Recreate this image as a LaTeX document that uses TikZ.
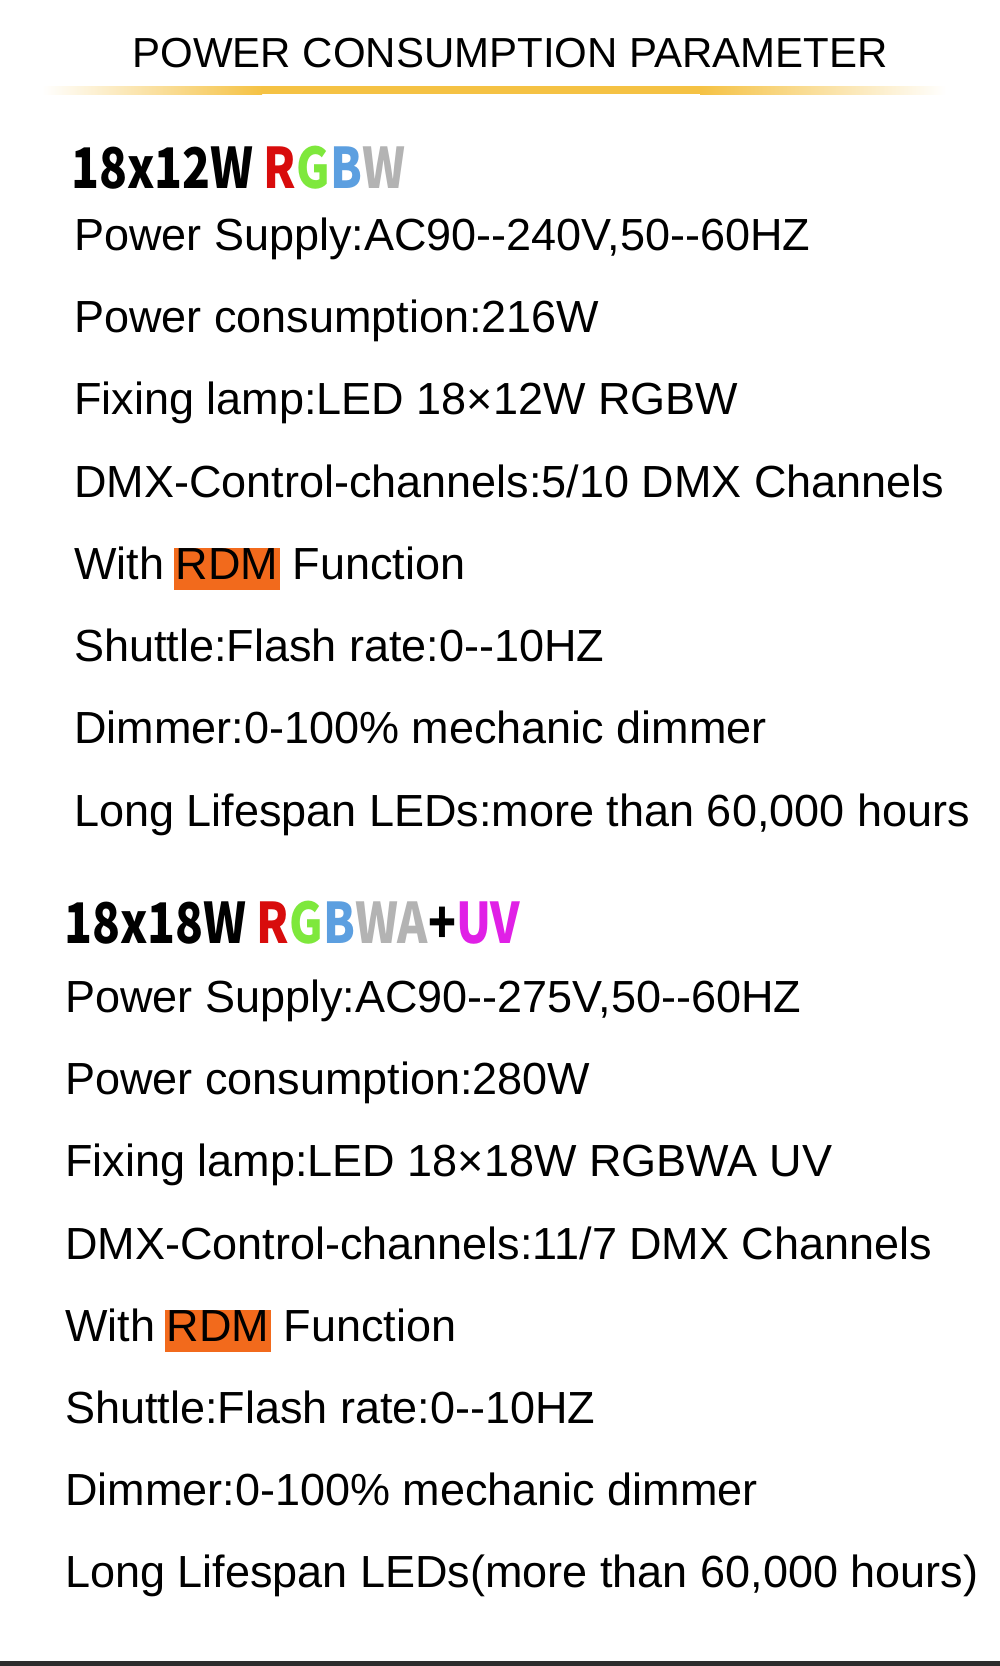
\documentclass[tikz,border=0pt]{standalone}
\usepackage{fontspec}
\usepackage{tikz}
\usetikzlibrary{positioning,calc}
\newfontfamily\bodyfont{Liberation Sans}[Ligatures=TeXOff]
\newfontfamily\headfont{Noto Sans CJK SC}[Ligatures=TeXOff, FakeStretch=0.82]
\definecolor{ledred}{RGB}{216,12,12}
\definecolor{ledgreen}{RGB}{126,232,60}
\definecolor{ledblue}{RGB}{92,159,224}
\definecolor{ledwhite}{RGB}{179,179,179}
\definecolor{leduv}{RGB}{224,32,230}
\definecolor{rdmorange}{RGB}{242,106,28}
\definecolor{linegold}{RGB}{245,194,68}
\definecolor{stripdark}{RGB}{45,45,45}
\newcommand{\rdmtag}[1]{{\setlength{\fboxsep}{0pt}\hspace{-3pt}\colorbox{rdmorange}{\hspace{2pt}\rule[-11pt]{0pt}{42pt}#1\hspace{2pt}}}}

\begin{document}
\begin{tikzpicture}[
    x=1pt, y=-1pt,
    title/.style={inner sep=0pt, anchor=base, font=\bodyfont\fontsize{42}{50}\selectfont},
    head/.style={inner sep=0pt, anchor=base west, font=\headfont\bfseries\fontsize{56}{64}\selectfont},
    spec/.style={inner sep=0pt, anchor=base west, font=\bodyfont\fontsize{45}{54}\selectfont}
]
    % Page
    \fill[white] (0,0) rectangle (1000,1666);
    \useasboundingbox (0,0) rectangle (1000,1666);
    \fill[stripdark] (0,1661) rectangle (1000,1666);

    % Title
    \node[title] (title) at (510,67) {POWER CONSUMPTION PARAMETER};

    % Gold rule
    \shade[left color=white, right color=linegold] (42,86) rectangle (262,94);
    \fill[linegold] (262,86) rectangle (700,94);
    \shade[left color=linegold, right color=white] (700,86) rectangle (946,94);

    % 18x12W
    \node[head] (headA) at (71,188) {18x12W \textcolor{ledred}{R}\textcolor{ledgreen}{G}\textcolor{ledblue}{B}\textcolor{ledwhite}{W}};
    \node[spec] (supplyA) at (74,250) {Power Supply:AC90--240V,50--60HZ};
    \node[spec] (powerA) at (74,332) {Power consumption:216W};
    \node[spec] (lampA) at (74,414) {Fixing lamp:LED 18×12W RGBW};
    \node[spec] (dmxA) at (74,497) {DMX-Control-channels:5/10 DMX Channels};
    \node[spec] (rdmA) at (74,579) {With \rdmtag{RDM} Function};
    \node[spec] (shutterA) at (74,661) {Shuttle:Flash rate:0--10HZ};
    \node[spec] (dimmerA) at (74,743) {Dimmer:0-100\% mechanic dimmer};
    \node[spec] (lifeA) at (74,826) {Long Lifespan LEDs:more than 60,000 hours};

    % 18x18W
    \node[head] (headB) at (64,943) {18x18W \textcolor{ledred}{R}\textcolor{ledgreen}{G}\textcolor{ledblue}{B}\textcolor{ledwhite}{WA}+\textcolor{leduv}{UV}};
    \node[spec] (supplyB) at (65,1012) {Power Supply:AC90--275V,50--60HZ};
    \node[spec] (powerB) at (65,1094) {Power consumption:280W};
    \node[spec] (lampB) at (65,1176) {Fixing lamp:LED 18×18W RGBWA UV};
    \node[spec] (dmxB) at (65,1259) {DMX-Control-channels:11/7 DMX Channels};
    \node[spec] (rdmB) at (65,1341) {With \rdmtag{RDM} Function};
    \node[spec] (shutterB) at (65,1423) {Shuttle:Flash rate:0--10HZ};
    \node[spec] (dimmerB) at (65,1505) {Dimmer:0-100\% mechanic dimmer};
    \node[spec] (lifeB) at (65,1587) {Long Lifespan LEDs(more than 60,000 hours)};
\end{tikzpicture}
\end{document}
